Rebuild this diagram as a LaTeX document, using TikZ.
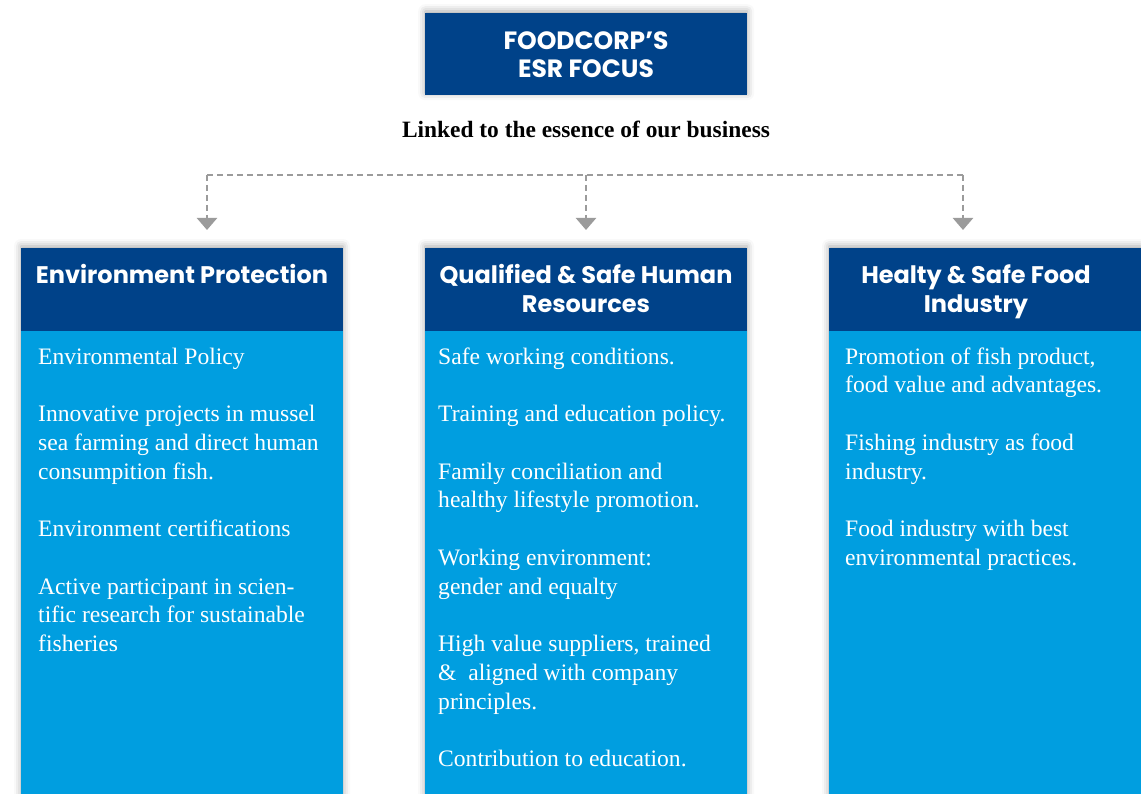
\documentclass[tikz,border=0pt]{standalone}
\usepackage{fontspec}
\setmainfont{Liberation Serif}
\newfontfamily\headfont{Poppins}
\usetikzlibrary{shadows.blur,arrows.meta}
\definecolor{darkblue}{RGB}{0,66,137}
\definecolor{lightblue}{RGB}{0,158,224}
\definecolor{dashgrey}{RGB}{155,155,155}
\tikzset{
  colshadow/.style={blur shadow={shadow xshift=0pt,shadow yshift=2pt,shadow blur radius=7pt,shadow opacity=35}},
  headbox/.style={fill=darkblue, minimum width=322pt, minimum height=83pt, inner sep=0pt, anchor=north west},
  headtext/.style={text=white, font=\headfont\bfseries\fontsize{24}{29}\selectfont, inner sep=0pt, anchor=base},
  toptextstyle/.style={text=white, font=\headfont\bfseries\fontsize{25}{29}\selectfont, inner sep=0pt, anchor=base},
  bodytext/.style={text=white, font=\fontsize{23.6}{28.75}\selectfont, inner sep=0pt, anchor=base west},
  link/.style={draw=dashgrey, line width=2.4pt, dash pattern=on 6pt off 4pt},
  linkarrow/.style={link, -{Triangle[width=20pt,length=12pt,fill=dashgrey]}, shorten >=18pt}
}
\begin{document}
\begin{tikzpicture}[x=1pt,y=-1pt]
\useasboundingbox (0,0) rectangle (1141,794);
% top box
\node[headbox, colshadow, minimum height=82pt] (top) at (425,13) {};
\node[toptextstyle] (toptext) at (586,50) {FOODCORP’S};
\node[toptextstyle] (toptext2) at (586,78) {ESR FOCUS};
\node[font=\bfseries\fontsize{23.4}{27}\selectfont, inner sep=0pt, anchor=base] (sub) at (586,138) {Linked to the essence of our business};
% columns
\fill[lightblue, colshadow] (21,248) rectangle (343,810);
\fill[lightblue, colshadow] (425,248) rectangle (747,810);
\fill[lightblue, colshadow] (829,248) rectangle (1160,810);
\node[headbox] (h1) at (21,248) {};
\node[headbox] (h2) at (425,248) {};
\node[headbox, minimum width=331pt] (h3) at (829,248) {};
\node[headtext] (h1t) at (182,284) {Environment Protection};
\node[headtext] (h2t) at (586,284) {Qualified \& Safe Human};
\node[headtext] (h2u) at (586,313) {Resources};
\node[headtext] (h3t) at (976,284) {Healty \& Safe Food};
\node[headtext] (h3u) at (976,313) {Industry};
% connectors
\coordinate (hub) at (586,175);
\coordinate (hl) at (207,175);
\coordinate (hr) at (963,175);
\draw[link] (hl) -- (hr);
\draw[linkarrow] (hl) -- (hl |- h1.north);
\draw[linkarrow] (hub) -- (hub |- h2.north);
\draw[linkarrow] (hr) -- (hr |- h3.north);
% body text
\foreach \n/\t in {0/{Environmental Policy},
  2/{Innovative projects in mussel}, 3/{sea farming and direct human}, 4/{consumpition fish.},
  6/{Environment certifications},
  8/{Active participant in scien-}, 9/{tific research for sustainable}, 10/{fisheries}}
  \node[bodytext] (a\n) at (38,364+28.75*\n) {\t};
\foreach \n/\t in {0/{Safe working conditions.},
  2/{Training and education policy.},
  4/{Family conciliation and}, 5/{healthy lifestyle promotion.},
  7/{Working environment:}, 8/{gender and equalty},
  10/{High value suppliers, trained}, 11/{\&\ \ aligned with company}, 12/{principles.},
  14/{Contribution to education.}}
  \node[bodytext] (b\n) at (438,364+28.75*\n) {\t};
\foreach \n/\t in {0/{Promotion of fish product,}, 1/{food value and advantages.},
  3/{Fishing industry as food}, 4/{industry.},
  6/{Food industry with best}, 7/{environmental practices.}}
  \node[bodytext] (c\n) at (845,364+28.75*\n) {\t};
\end{tikzpicture}
\end{document}
